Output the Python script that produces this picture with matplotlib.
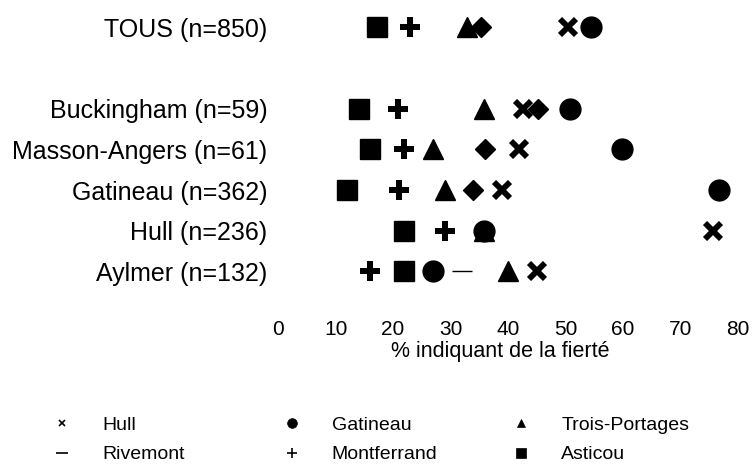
import numpy as np
import matplotlib
matplotlib.use('Agg')
import matplotlib.pyplot as plt
from matplotlib.lines import Line2D

# Données
categories = ["TOUS (n=850)", "Buckingham (n=59)", "Masson-Angers (n=61)",
              "Gatineau (n=362)", "Hull (n=236)", "Aylmer (n=132)"]
rangs = [7, 5, 4, 3, 2, 1]

nan = np.nan
hull = [50.4, 42.6, 41.9, 39.0, 75.7, 45.0]
gatineau = [54.4, 50.8, 59.8, 76.7, 35.8, 27.0]
trois_portages = [32.9, 35.8, 27.0, 29.0, 35.8, 40.0]
rivemont = [nan, nan, nan, nan, nan, 32.0]
montferrand = [23.0, 20.9, 21.9, 21.0, 29.0, 16.0]
asticou = [17.2, 14.1, 16.0, 12.0, 21.9, 21.9]
autre = [35.3, 45.2, 36.0, 33.9, nan, nan]

ticks_x = [0, 10, 20, 30, 40, 50, 60, 70, 80]

plt.rcParams['font.family'] = ['Liberation Sans', 'DejaVu Sans']

fig = plt.figure(figsize=(7.52, 4.68), dpi=100)
ax = fig.add_axes([0.37, 0.333, 0.611, 0.661])

# ordre de dessin: triangle, x, losange, cercle, plus, carré, tiret
ax.plot(trois_portages, rangs, '^', color='black', ms=14, ls='none')
ax.plot(hull, rangs, 'x', color='black', ms=11, mew=4.2, ls='none')
ax.plot(autre, rangs, 'D', color='black', ms=10, ls='none')
ax.plot(gatineau, rangs, 'o', color='black', ms=15, ls='none')
ax.plot(montferrand, rangs, 'P', color='black', ms=14, mew=0, ls='none')
ax.plot(asticou, rangs, 's', color='black', ms=15, ls='none')
ax.plot(rivemont, rangs, '_', color='black', ms=14, mew=1, ls='none')

ax.set_xlim(0, 80)
ax.set_ylim(0, 7.6)
ax.set_xticks(ticks_x)
ax.set_xticklabels([str(t) for t in ticks_x], fontsize=15)
ax.set_yticks(rangs)
ax.set_yticklabels(categories, fontsize=18)
ax.tick_params(axis='both', length=0)
ax.tick_params(axis='y', pad=8)
ax.tick_params(axis='x', pad=6)
for s in ax.spines.values():
    s.set_visible(False)
ax.set_xlabel('% indiquant de la fierté', fontsize=15.5, labelpad=1, x=0.483)

# légende: trois colonnes de deux entrées
def entree(m, ms, label):
    return Line2D([], [], marker=m, color='black', ls='none', ms=ms,
                  mew=1.2 if m in ('_', 'x', '+') else 0.5, label=label)

colonnes = [
    [entree('x', 5, 'Hull'), entree('_', 9, 'Rivemont')],
    [entree('o', 7, 'Gatineau'), entree('+', 7, 'Montferrand')],
    [entree('^', 6, 'Trois-Portages'), entree('s', 7, 'Asticou')],
]
ancres_x = [0.0695, 0.375, 0.680]
for hs, x0 in zip(colonnes, ancres_x):
    fig.legend(handles=hs, loc='center left', bbox_to_anchor=(x0, 0.060),
               frameon=False, fontsize=14, handlelength=1.0, handletextpad=1.56,
               labelspacing=0.6, borderpad=0, borderaxespad=0)

plt.savefig('out.png', dpi=100)
plt.close()
